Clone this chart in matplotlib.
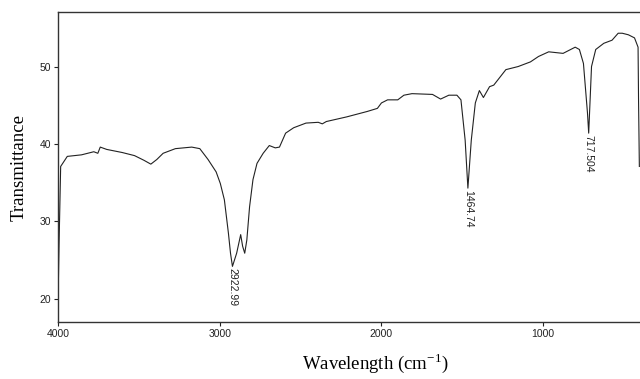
import matplotlib.pyplot as plt
from matplotlib import font_manager

# IR spectrum (wavenumber, transmittance)
wavenumber = [
    4000, 3995, 3985, 3944, 3856, 3780, 3755, 3740, 3700, 3604, 3528, 3470, 3427,
    3390, 3351, 3275, 3174, 3124, 3073, 3023, 2997, 2972, 2947, 2934, 2922,
    2896, 2871, 2859, 2846, 2833, 2816, 2795, 2770, 2732, 2694, 2657, 2631,
    2593, 2543, 2467, 2391, 2366, 2341, 2215, 2088, 2025, 2000, 1962, 1899,
    1861, 1811, 1684, 1634, 1583, 1533, 1508, 1482, 1465, 1444, 1419, 1394,
    1369, 1331, 1305, 1230, 1154, 1078, 1028, 965, 876, 801, 775, 750, 725,
    717.5, 700, 674, 624, 573, 535, 510, 472, 434, 412, 409, 404,
]
transmittance = [
    21.2, 27.0, 37.1, 38.4, 38.6, 39.0, 38.8, 39.6, 39.3, 38.9, 38.5, 37.9, 37.4,
    38.0, 38.8, 39.4, 39.6, 39.4, 38.0, 36.4, 34.9, 32.8, 28.5, 25.9, 24.2,
    25.9, 28.3, 26.8, 25.9, 27.6, 31.9, 35.4, 37.5, 38.8, 39.8, 39.5, 39.6,
    41.4, 42.1, 42.7, 42.8, 42.6, 42.9, 43.5, 44.2, 44.6, 45.3, 45.7, 45.7,
    46.3, 46.5, 46.4, 45.8, 46.3, 46.3, 45.7, 40.5, 34.3, 40.5, 45.3, 46.9,
    46.0, 47.4, 47.6, 49.6, 50.0, 50.6, 51.3, 51.9, 51.7, 52.5, 52.2, 50.4, 44.0,
    41.4, 50.0, 52.2, 53.0, 53.4, 54.3, 54.3, 54.1, 53.7, 52.5, 45.7, 37.1,
]

peak_pos = [2922.99, 1464.74, 717.504]
peak_val = [24.2, 34.3, 41.4]
peak_text = ["2922.99", "1464.74", "717.504"]

x_ticks = [4000, 3000, 2000, 1000]
y_ticks = [20, 30, 40, 50]

names = {f.name for f in font_manager.fontManager.ttflist}
tick_font = ["Liberation Sans Narrow", "DejaVu Sans"] if "Liberation Sans Narrow" in names else ["Liberation Sans", "DejaVu Sans"]
label_font = ["Liberation Serif", "DejaVu Serif"]

fig = plt.figure(figsize=(6.4, 3.79), dpi=100)
ax = fig.add_axes([0.091, 0.150, 0.909, 0.8175])

ax.plot(wavenumber, transmittance, color="#222222", linewidth=0.8)

for w, t, s in zip(peak_pos, peak_val, peak_text):
    ax.text(w, t - 0.2, s, rotation=270, ha="center", va="top",
            fontsize=7.5, family=tick_font, color="#222222")

ax.set_xlim(4000, 400)
ax.set_ylim(17, 57)
ax.set_xticks(x_ticks)
ax.set_yticks(y_ticks)
for lab in ax.get_xticklabels() + ax.get_yticklabels():
    lab.set_family(tick_font)
    lab.set_fontsize(7.5)
ax.tick_params(direction="out", length=3, width=0.8, pad=2, colors="#222222")
ax.spines["right"].set_visible(False)
for side in ("left", "top", "bottom"):
    ax.spines[side].set_linewidth(1.0)
    ax.spines[side].set_color("#333333")

ax.set_ylabel("Transmittance", family=label_font, fontsize=13.5)
ax.set_xlabel("Wavelength (cm$^{\\mathregular{-1}}$)", family=label_font, fontsize=13.5)
ax.yaxis.set_label_coords(-0.052, 0.5)
ax.xaxis.label.set_va("bottom")
ax.xaxis.set_label_coords(0.545, -0.172)

fig.savefig("out.png", dpi=100)
